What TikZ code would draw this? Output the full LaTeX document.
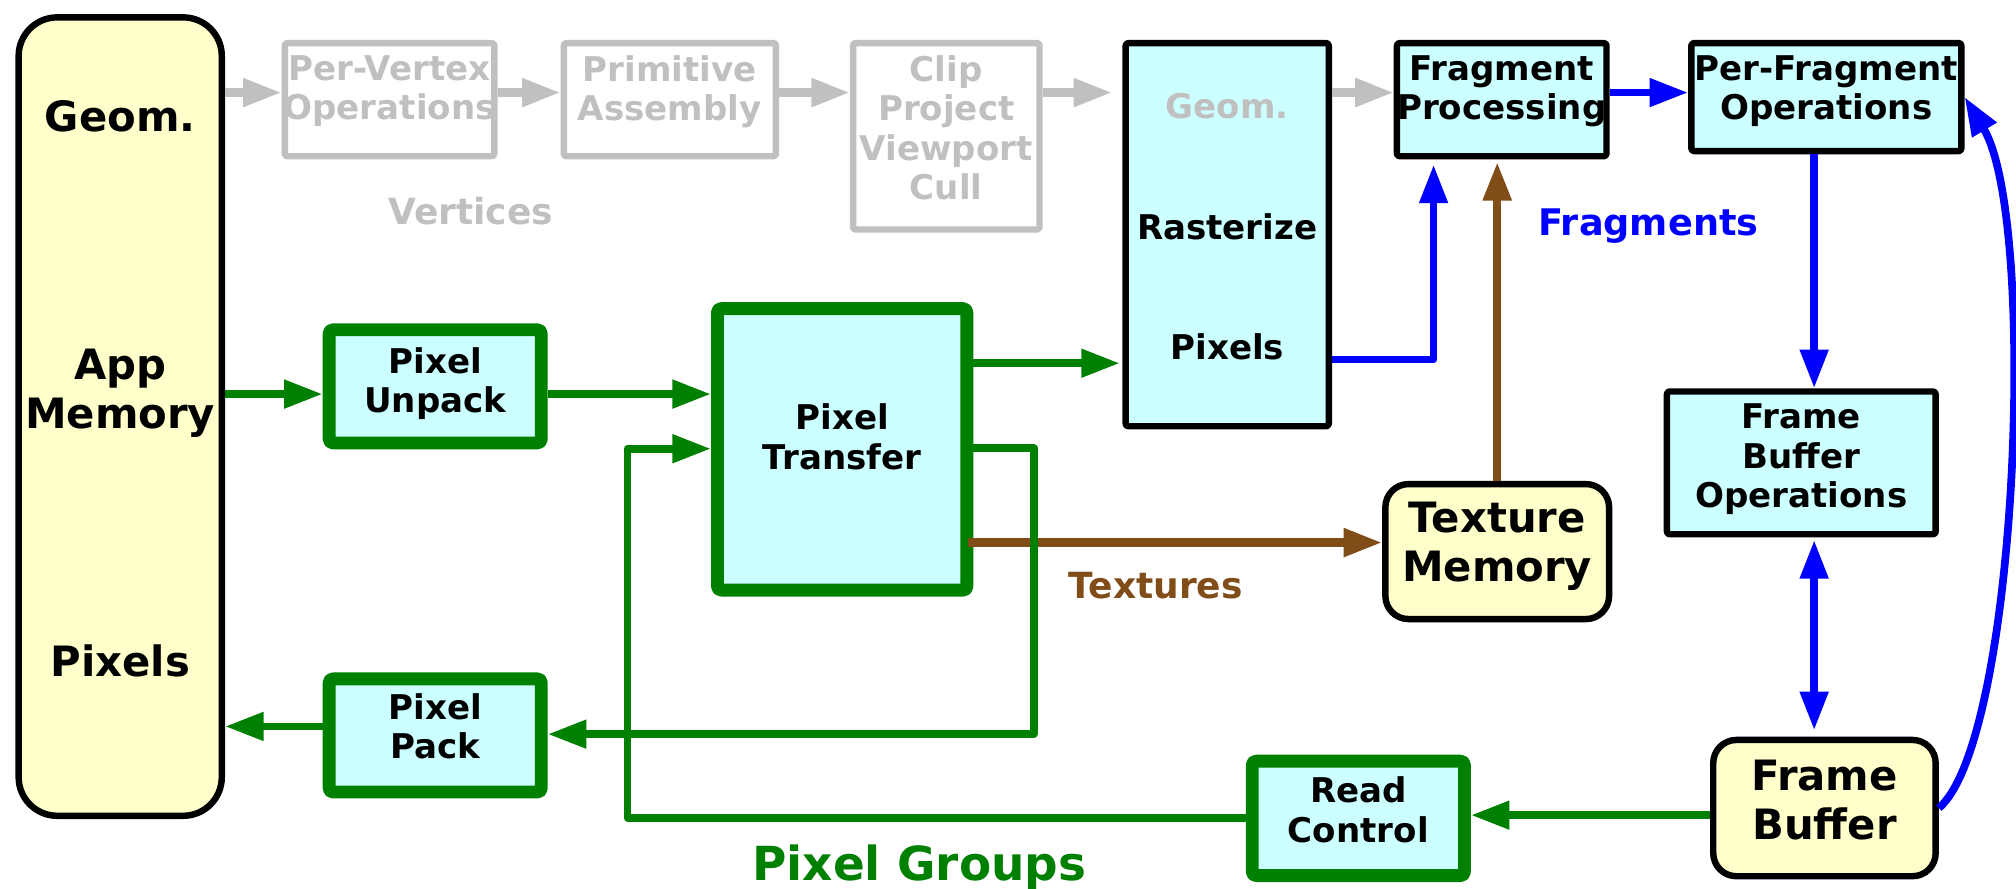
\documentclass[tikz,border=0pt]{standalone}
\usepackage{fontspec}
\setmainfont{DejaVu Sans}
\usetikzlibrary{arrows.meta}
\definecolor{grayc}{RGB}{192,192,192}
\definecolor{greenc}{RGB}{0,128,0}
\definecolor{bluec}{RGB}{0,0,255}
\definecolor{brownc}{RGB}{128,77,25}
\definecolor{cyanc}{RGB}{204,255,255}
\definecolor{yellowc}{RGB}{255,255,204}
\begin{document}
\begin{tikzpicture}[x=1pt,y=-1pt,line join=round,
  box/.style={rectangle,inner sep=0pt},
  gbox/.style={box,draw=grayc,line width=5pt,fill=white,rounded corners=2pt},
  cbox/.style={box,draw=black,line width=5pt,fill=cyanc,rounded corners=2pt},
  grbox/.style={box,draw=greenc,line width=10pt,fill=cyanc,rounded corners=3pt},
  ybox/.style={box,draw=black,line width=5pt,fill=yellowc,rounded corners=18pt},
  lbl/.style={font=\bfseries\fontsize{26.5}{30.7}\selectfont,align=center,inner sep=0pt,anchor=north},
  big/.style={font=\bfseries\fontsize{32.5}{38}\selectfont,align=center,inner sep=0pt,anchor=north},
  arr/.style={line width=6pt,-{Triangle[length=30pt,width=21pt]}},
  garr/.style={arr,draw=grayc,line width=6.5pt},
  barr/.style={arr,draw=bluec},
  grarr/.style={arr,draw=greenc},
  brarr/.style={arr,draw=brownc,line width=6.5pt}]
\useasboundingbox (0,0) rectangle (1568,690.7);

% boxes
\node[ybox,rounded corners=30pt,minimum width=158pt,minimum height=621pt] (app) at (93.5,324) {};
\node[gbox,minimum width=163pt,minimum height=88pt] (pv) at (303,77.5) {};
\node[gbox,minimum width=165pt,minimum height=88pt] (pa) at (521,77.5) {};
\node[gbox,minimum width=145pt,minimum height=145pt] (clip) at (736,106) {};
\node[cbox,minimum width=158pt,minimum height=298pt] (rast) at (954.5,182.5) {};
\node[cbox,minimum width=163pt,minimum height=88pt] (fp) at (1168,77.5) {};
\node[cbox,minimum width=210pt,minimum height=84pt] (pfo) at (1420.5,75.5) {};
\node[cbox,minimum width=209pt,minimum height=111pt] (fbo) at (1401,360) {};
\node[ybox,minimum width=174pt,minimum height=105pt] (tex) at (1164.5,429) {};
\node[ybox,minimum width=173pt,minimum height=106pt] (fb) at (1419,628.5) {};
\node[grbox,minimum width=165pt,minimum height=89pt] (rc) at (1056.5,636.5) {};
\node[grbox,minimum width=194pt,minimum height=219pt] (ptr) at (655,349.5) {};
\node[grbox,minimum width=165pt,minimum height=88pt] (pu) at (338.5,300.5) {};
\node[grbox,minimum width=165pt,minimum height=88pt] (pp) at (338.5,572) {};

% texts
\node[big] (appa) at (93.5,78) {Geom.};
\node[big] (appb) at (93.5,271) {App\\Memory};
\node[big] (appc) at (93.5,501) {Pixels};
\node[lbl,text=grayc] (pvt) at (303,43) {Per-Vertex\\Operations};
\node[lbl,text=grayc] (pat) at (521,43) {Primitive\\Assembly};
\node[lbl,text=grayc] (clipt) at (736,43) {Clip\\Project\\Viewport\\Cull};
\node[lbl,text=grayc] (rasta) at (954.5,72) {Geom.};
\node[lbl] (rastb) at (954.5,166) {Rasterize};
\node[lbl] (rastc) at (954.5,259) {Pixels};
\node[lbl] (fpt) at (1168,43) {Fragment\\Processing};
\node[lbl] (pfot) at (1420.5,43) {Per-Fragment\\Operations};
\node[lbl] (fbot) at (1401,314) {Frame\\Buffer\\Operations};
\node[big] (text) at (1164.5,390) {Texture\\Memory};
\node[big] (fbt) at (1419,591) {Frame\\Buffer};
\node[lbl] (rct) at (1056.5,604) {Read\\Control};
\node[lbl] (ptrt) at (655,314) {Pixel\\Transfer};
\node[lbl] (put) at (338.5,270) {Pixel\\Unpack};
\node[lbl] (ppt) at (338.5,539) {Pixel\\Pack};
\node[font=\bfseries\fontsize{28}{32}\selectfont,text=grayc,inner sep=0pt,anchor=north] (vert) at (366,153) {Vertices};
\node[font=\bfseries\fontsize{28.5}{32}\selectfont,text=bluec,inner sep=0pt,anchor=north] (frag) at (1282,162) {Fragments};
\node[font=\bfseries\fontsize{28}{32}\selectfont,text=brownc,inner sep=0pt,anchor=north] (texl) at (899,445) {Textures};
\node[font=\bfseries\fontsize{36.5}{40}\selectfont,text=greenc,inner sep=0pt,anchor=north] (pg) at (715,657) {Pixel Groups};

% rows
\coordinate (rowA) at (0,72);
\coordinate (rowB) at (0,306.5);
\coordinate (rowC) at (0,282.5);
\coordinate (rowD) at (0,565);
\coordinate (rowE) at (0,634);
\coordinate (rowF) at (0,422);
\coordinate (bx) at (1115,279.5);
\coordinate (vx) at (1411,0);
\coordinate (l1) at (804,348.5);
\coordinate (l1b) at (804,571);
\coordinate (l2) at (488,636);
\coordinate (l2b) at (488,349);

% gray arrows
\draw[garr] (app.east |- rowA) -- (pv.west |- rowA);
\draw[garr] (pv.east |- rowA) -- (pa.west |- rowA);
\draw[garr] (pa.east |- rowA) -- (clip.west |- rowA);
\draw[garr,shorten >=8pt] (clip.east |- rowA) -- (rast.west |- rowA);
\draw[garr] (rast.east |- rowA) -- (fp.west |- rowA);

% blue arrows
\draw[barr] (fp.east |- rowA) -- (pfo.west |- rowA);
\draw[barr,shorten >=4pt] (rast.east |- bx) -| (bx |- fp.south);
\draw[barr] (vx |- pfo.south) -- (vx |- fbo.north);
\draw[line width=6pt,draw=bluec,{Triangle[length=30pt,width=21pt]}-{Triangle[length=30pt,width=21pt]},shorten <=2pt,shorten >=5pt] (vx |- fbo.south) -- (vx |- fb.north);
\draw[barr] (fb.east) .. controls (1570,575) and (1585,170) .. (pfo.east);

% brown arrows
\draw[brarr] ([xshift=-4pt]ptr.east |- rowF) -- (tex.west |- rowF);
\draw[brarr,shorten >=2pt] (tex.north) -- (tex.north |- fp.south);

% green arrows
\draw[grarr] (app.east |- rowB) -- (pu.west |- rowB);
\draw[grarr] (pu.east |- rowB) -- (ptr.west |- rowB);
\draw[grarr,shorten >=2pt] (ptr.east |- rowC) -- (rast.west |- rowC);
\draw[grarr] (ptr.east |- l1) -- (l1) -- (l1b) -- (pp.east |- l1b);
\draw[grarr] (pp.west |- rowD) -- (app.east |- rowD);
\draw[grarr] (rc.west |- l2) -- (l2) -- (l2b) -- (ptr.west |- l2b);
\draw[grarr] (fb.west |- rowE) -- (rc.east |- rowE);
\end{tikzpicture}
\end{document}
